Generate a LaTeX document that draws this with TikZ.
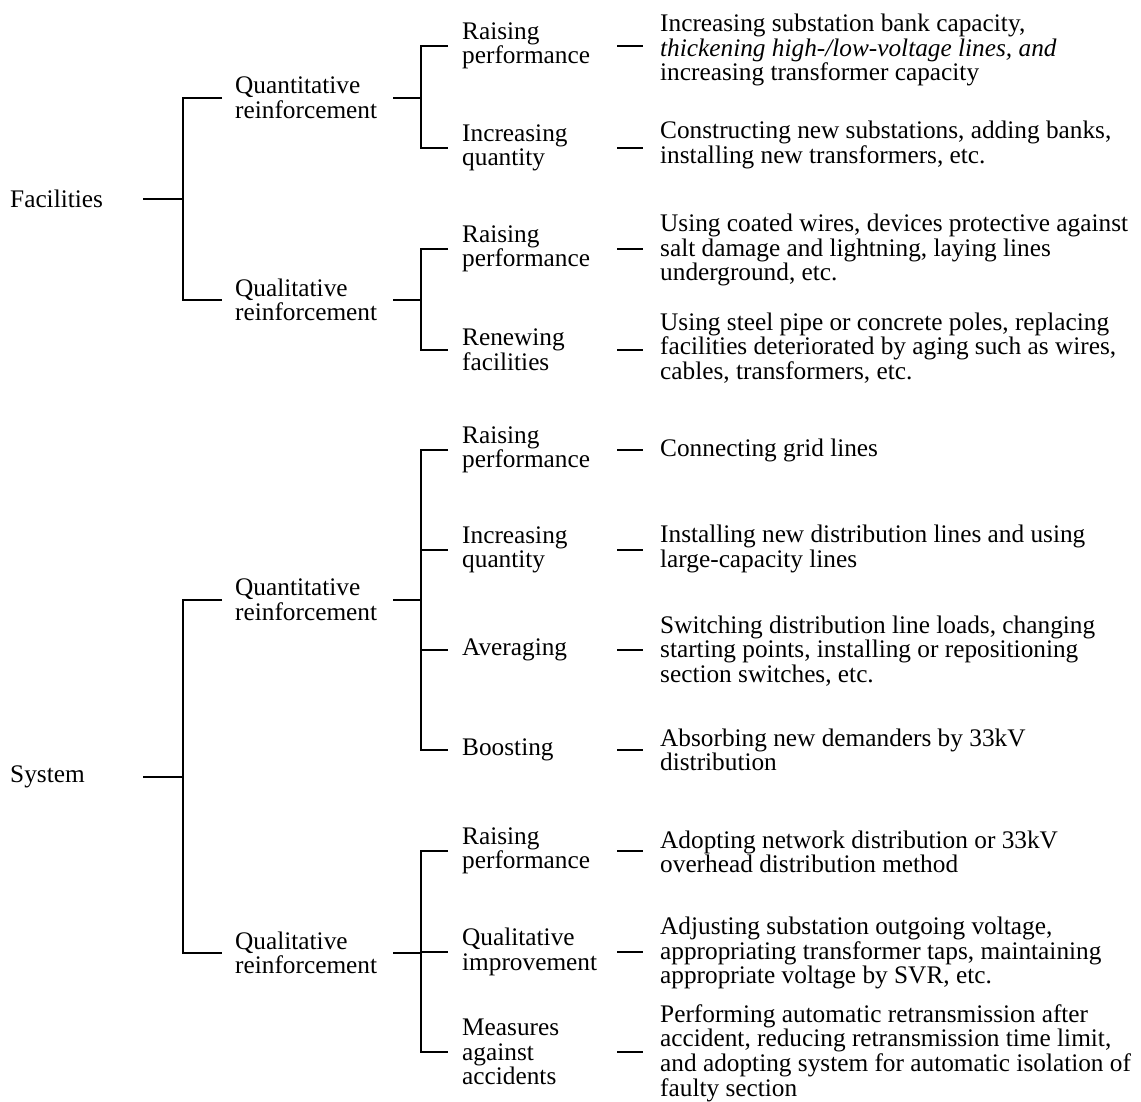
\documentclass[tikz,border=0pt]{standalone}
\usepackage{fontspec}
\setmainfont{Liberation Serif}
\usetikzlibrary{calc}
\begin{document}
\begin{tikzpicture}[x=1pt,y=-1pt,
  lbl/.style={anchor=west, inner sep=0pt, align=left, font=\fontsize{25.3}{24.6}\selectfont},
  conn/.style={line width=2pt}]
\useasboundingbox[fill=white] (0,0) rectangle (1141,1102);
% level 0
\node[lbl] (fac) at (10,199) {Facilities};
\node[lbl] (sys) at (10,777) {System};
% level 1
\node[lbl] (fq) at (235,98)  {Quantitative\\reinforcement};
\node[lbl] (fl) at (235,300) {Qualitative\\reinforcement};
\node[lbl] (sq) at (235,600) {Quantitative\\reinforcement};
\node[lbl] (sl) at (235,953) {Qualitative\\reinforcement};
% level 2
\node[lbl] (rp1) at (462,46)   {Raising\\performance};
\node[lbl] (iq1) at (462,148)  {Increasing\\quantity};
\node[lbl] (rp2) at (462,249)  {Raising\\performance};
\node[lbl] (rf)  at (462,350)  {Renewing\\facilities};
\node[lbl] (rp3) at (462,450)  {Raising\\performance};
\node[lbl] (iq2) at (462,550)  {Increasing\\quantity};
\node[lbl] (av)  at (462,650)  {Averaging};
\node[lbl] (bo)  at (462,750)  {Boosting};
\node[lbl] (rp4) at (462,851)  {Raising\\performance};
\node[lbl] (qi)  at (462,952)  {Qualitative\\improvement};
\node[lbl] (ma)  at (462,1052) {Measures\\against\\accidents};
% descriptions
\node[lbl] (d1) at (660,50) {Increasing substation bank capacity,\\\textit{thickening high-/low-voltage lines, and}\\increasing transformer capacity};
\node[lbl] (d2) at (660,145) {Constructing new substations, adding banks,\\installing new transformers, etc.};
\node[lbl] (d3) at (660,250) {Using coated wires, devices protective against\\salt damage and lightning, laying lines\\underground, etc.};
\node[lbl] (d4) at (660,348) {Using steel pipe or concrete poles, replacing\\facilities deteriorated by aging such as wires,\\cables, transformers, etc.};
\node[lbl] (d5) at (660,450) {Connecting grid lines};
\node[lbl] (d6) at (660,549) {Installing new distribution lines and using\\large-capacity lines};
\node[lbl] (d7) at (660,651) {Switching distribution line loads, changing\\starting points, installing or repositioning\\section switches, etc.};
\node[lbl] (d8) at (660,750) {Absorbing new demanders by 33kV\\distribution};
\node[lbl] (d9) at (660,852) {Adopting network distribution or 33kV\\overhead distribution method};
\node[lbl] (d10) at (660,953) {Adjusting substation outgoing voltage,\\appropriating transformer taps, maintaining\\appropriate voltage by SVR, etc.};
\node[lbl] (d11) at (660,1053) {Performing automatic retransmission after\\accident, reducing retransmission time limit,\\and adopting system for automatic isolation of\\faulty section};
% level 0 -> level 1 brackets
\foreach \p/\a/\b in {fac/fq/fl, sys/sq/sl} {
  \draw[conn] ($(\p.west)+(133,0)$) -- ($(\p.west -| \a.west)+(-52,0)$);
  \draw[conn] ($(\a.west)+(-13,0)$) -- ($(\a.west)+(-52,0)$) -- ($(\b.west)+(-52,0)$) -- ($(\b.west)+(-13,0)$);
}
% level 1 -> level 2 brackets
\foreach \p/\a/\b in {fq/rp1/iq1, fl/rp2/rf, sq/rp3/bo, sl/rp4/ma} {
  \draw[conn] ($(\p.west -| \a.west)+(-69,0)$) -- ($(\p.west -| \a.west)+(-41,0)$);
  \draw[conn] ($(\a.west)+(-14,0)$) -- ($(\a.west)+(-41,0)$) -- ($(\b.west)+(-41,0)$) -- ($(\b.west)+(-14,0)$);
}
\foreach \c in {iq2, av, qi} {
  \draw[conn] ($(\c.west)+(-41,0)$) -- ($(\c.west)+(-14,0)$);
}
% description ticks
\foreach \a/\b in {rp1/d1, iq1/d2, rp2/d3, rf/d4, rp3/d5, iq2/d6, av/d7, bo/d8, rp4/d9, qi/d10, ma/d11} {
  \draw[conn] ($(\a.west -| \b.west)+(-43,0)$) -- ($(\a.west -| \b.west)+(-17,0)$);
}
\end{tikzpicture}
\end{document}
